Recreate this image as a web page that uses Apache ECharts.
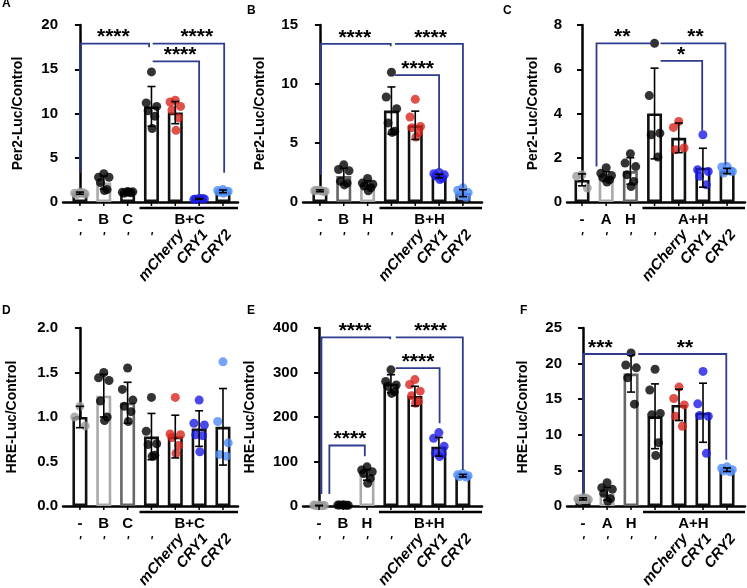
<!DOCTYPE html>
<html>
<head>
<meta charset="utf-8">
<script src="https://cdn.jsdelivr.net/npm/echarts@6/dist/echarts.min.js"></script>
<style>
  html, body { margin: 0; padding: 0; background: #fff; }
  #main { width: 747px; height: 588px; }
</style>
</head>
<body>
<div id="main"></div>
<script>
var FONT = 'Liberation Sans, Arial, sans-serif';

// panel setup
var letters = ['A', 'B', 'C', 'D', 'E', 'F'];
var yNames = ['Per2-Luc/Control', 'Per2-Luc/Control', 'Per2-Luc/Control',
              'HRE-Luc/Control', 'HRE-Luc/Control', 'HRE-Luc/Control'];
var yMax = [20, 15, 8, 2, 400, 25];
var yStep = [5, 5, 2, 0.5, 100, 5];
var firstLabels = [['-', 'B', 'C'], ['-', 'B', 'H'], ['-', 'A', 'H'],
                   ['-', 'B', 'C'], ['-', 'B', 'H'], ['-', 'A', 'H']];
var groupLabels = ['B+C', 'B+H', 'A+H', 'B+C', 'B+H', 'A+H'];
var rotLabels = ['mCherry', 'CRY1', 'CRY2'];

// means, SD and single points (7 bars per panel)
var meansA = [1.0, 2.2, 1.1, 10.8, 10.1, 0.35, 1.2];
var sdA = [0.12, 0.75, 0.08, 2.25, 1.25, 0.05, 0.15];
var ptsA = [[1.1, 1.0, 0.9, 0.85, 1.05, 1.0], [3.2, 2.8, 2.8, 2.2, 1.4, 1.3], [1.2, 1.1, 1.15, 1.0, 1.05, 1.1],
            [14.7, 11.2, 10.8, 10.3, 9.7, 8.3], [11.5, 11.3, 10.8, 10.4, 9.5, 8.1],
            [0.4, 0.3, 0.35, 0.3, 0.4, 0.35], [1.4, 1.3, 1.2, 1.1, 1.2, 1.0]];

var meansB = [0.95, 2.2, 1.45, 7.75, 6.5, 2.2, 0.75];
var sdB = [0.08, 0.65, 0.35, 2.0, 1.2, 0.15, 0.3];
var ptsB = [[1.0, 0.95, 0.9, 1.0, 0.9, 0.95], [3.15, 2.75, 2.65, 1.75, 1.6, 1.45], [2.0, 1.6, 1.5, 1.35, 1.2, 0.95],
            [11.0, 8.9, 7.9, 6.7, 6.0, 5.9], [8.7, 7.2, 6.4, 6.3, 5.9, 5.5],
            [2.5, 2.4, 2.3, 2.2, 2.0, 1.9], [1.2, 1.0, 0.8, 0.6, 0.4, 0.5]];

var meansC = [1.0, 1.15, 1.4, 4.0, 2.9, 1.55, 1.4];
var sdC = [0.27, 0.22, 0.6, 2.05, 0.67, 0.88, 0.12];
var ptsC = [[1.23, 1.16, 0.63], [1.55, 1.3, 1.2, 1.1, 1.0, 0.9], [2.18, 1.76, 1.6, 1.23, 0.93, 0.7],
            [7.17, 4.81, 3.11, 3.04, 2.03], [3.64, 3.37, 2.44, 2.36],
            [3.04, 1.46, 1.38, 1.16, 0.78], [1.6, 1.58, 1.38, 1.31, 1.4]];

var meansD = [1.0, 1.24, 1.16, 0.78, 0.78, 0.87, 0.89];
var sdD = [0.12, 0.24, 0.23, 0.26, 0.24, 0.2, 0.43];
var ptsD = [[1.12, 1.0, 0.9], [1.5, 1.44, 1.41, 1.18, 1.0, 0.96], [1.55, 1.31, 1.19, 1.12, 1.06, 0.95],
            [1.22, 0.84, 0.7, 0.69, 0.57, 0.56], [1.22, 0.81, 0.8, 0.77, 0.68, 0.59],
            [1.19, 0.93, 0.91, 0.8, 0.79, 0.61], [1.62, 0.95, 0.71, 0.58, 0.56]];

var meansE = [1, 2, 70, 275, 247, 133, 68];
var sdE = [0.5, 0.5, 12, 20, 22, 21, 3];
var ptsE = [[1.5, 2, 1, 1.2, 0.8, 1.0], [2.5, 2, 1.5, 2.2, 1.8, 2.0], [88, 81, 77, 73, 62, 51],
            [306, 280, 272, 269, 257, 253], [284, 273, 258, 248, 235, 231],
            [165, 152, 134, 119, 117, 111], [73, 70, 68, 66, 65]];

var meansF = [1.0, 1.7, 18.6, 12.6, 14.2, 13.1, 5.1];
var sdF = [0.15, 0.9, 2.6, 4.55, 2.2, 4.15, 0.25];
var ptsF = [[1.2, 1.0, 0.9, 0.8, 1.1, 0.95], [3.27, 2.57, 2.34, 1.78, 1.03, 0.7], [21.5, 19.8, 19.4, 18.0, 14.3],
            [19.2, 16.3, 13.0, 12.8, 8.9, 7.1], [16.7, 15.1, 14.2, 12.6, 11.2],
            [18.9, 14.35, 12.6, 12.7, 7.4], [5.5, 5.3, 5.1, 4.9, 4.8]];

// brackets: [x1, x2, yTop, yLeftEnd, yRightEnd, starsX]
var bracketsA = [[0, 2.9, 17.9, 3.3, 17.5, 1.4], [3.05, 6.05, 17.9, 17.9, 3.3, 4.9], [3.05, 5.0, 15.9, 15.9, 0.7, 4.2]];
var starsA = ['****', '****', '****'];
var bracketsB = [[0.04, 2.97, 13.4, 2.3, 13.2, 1.46], [3.15, 6.0, 13.4, 13.4, 1.2, 4.64], [3.15, 5.0, 10.75, 10.75, 2.7, 4.1]];
var starsB = ['****', '****', '****'];
var bracketsC = [[0.6, 2.9, 7.17, 1.6, 7.17, 1.66], [3.25, 5.93, 7.17, 7.17, 1.68, 4.69], [3.25, 4.97, 6.38, 6.38, 3.23, 4.1]];
var starsC = ['**', '**', '*'];
var bracketsD = [];
var starsD = [];
var bracketsE = [[0.1, 2.97, 379, 27, 375, 1.5], [3.2, 6.0, 379, 379, 81, 4.65], [3.2, 5.03, 310, 310, 186, 4.13], [0.43, 1.91, 136, 27, 112, 1.29]];
var starsE = ['****', '****', '****', '****'];
var bracketsF = [[0, 2.05, 21.35, 1.8, 21.35, 0.72], [2.3, 5.97, 21.35, 21.35, 6.5, 4.25]];
var starsF = ['***', '**'];

var allMeans = [meansA, meansB, meansC, meansD, meansE, meansF];
var allSd = [sdA, sdB, sdC, sdD, sdE, sdF];
var allPts = [ptsA, ptsB, ptsC, ptsD, ptsE, ptsF];
var allBrackets = [bracketsA, bracketsB, bracketsC, bracketsD, bracketsE, bracketsF];
var allStars = [starsA, starsB, starsC, starsD, starsE, starsF];

// layout
var grids = [
  {left: 63, top: 25, width: 175, height: 177},
  {left: 303, top: 25, width: 179, height: 177},
  {left: 567, top: 25, width: 178, height: 177},
  {left: 63, top: 328, width: 175, height: 178},
  {left: 303, top: 328, width: 179, height: 178},
  {left: 567, top: 328, width: 178, height: 178}
];
var xMin = [-0.71, -0.71, -0.62, -0.71, -0.67, -0.67];
var xMax = [6.63, 6.8, 6.74, 6.63, 6.8, 6.75];
var nameGaps = [38, 36, 27, 44, 46, 37];
var barEdge = [['#111', '#aaa', '#111'], ['#111', '#666', '#aaa'], ['#111', '#aaa', '#666'],
               ['#111', '#aaa', '#666'], ['#111', '#111', '#aaa'], ['#111', '#aaa', '#666']];
var dotColors = ['#9b9b9b', '#000', '#000', '#000', '#d7261d', '#1c1ce6', '#4f8cf6'];
var jitter = [0, -0.22, 0.22, -0.14, 0.14, 0.03];
var bracketColor = '#2f3c8e';

var xAxes = [], yAxes = [], series = [];

grids.forEach(function (g, p) {
  g.outerBoundsMode = 'none';
  xAxes.push({
    gridIndex: p, type: 'value', min: xMin[p], max: xMax[p],
    axisLine: {lineStyle: {color: '#000', width: 2.5}},
    axisTick: {show: false}, axisLabel: {show: false}, splitLine: {show: false}
  });
  yAxes.push({
    gridIndex: p, type: 'value', min: 0, max: yMax[p], interval: yStep[p],
    name: yNames[p], nameLocation: 'middle', nameGap: nameGaps[p],
    nameTextStyle: {fontFamily: FONT, fontWeight: 'bold', fontSize: 14, color: '#000'},
    axisLine: {show: true, lineStyle: {color: '#000', width: 2.5}},
    axisTick: {show: true, length: 5, lineStyle: {color: '#000', width: 2}},
    axisLabel: {
      fontFamily: FONT, fontWeight: 'bold', fontSize: 15, color: '#000', margin: 5,
      formatter: p === 3 ? function (v) { return v.toFixed(1); } : '{value}'
    },
    splitLine: {show: false}
  });

  var means = allMeans[p], sd = allSd[p], pts = allPts[p];

  series.push({
    type: 'bar', xAxisIndex: p, yAxisIndex: p, barWidth: 15, z: 2,
    data: means.map(function (m, i) {
      return {value: [i, m], itemStyle: {color: '#fff', borderColor: i < 3 ? barEdge[p][i] : '#111', borderWidth: 2.6}};
    }),
    silent: true
  });

  var dots = [];
  pts.forEach(function (list, i) {
    list.forEach(function (v, k) {
      dots.push({value: [i + jitter[k], v], itemStyle: {color: dotColors[i]}});
    });
  });
  series.push({
    type: 'scatter', xAxisIndex: p, yAxisIndex: p, symbolSize: 9, z: 4,
    data: dots, silent: true
  });

  series.push({
    type: 'custom', xAxisIndex: p, yAxisIndex: p, z: 5, clip: false, silent: true,
    data: means.map(function (m, i) { return [i, m, sd[i]]; }),
    encode: {x: 0, y: 1},
    renderItem: function (params, api) {
      var x = api.value(0), m = api.value(1), s = api.value(2);
      var t = api.coord([x, m + s]), b = api.coord([x, m - s]);
      var st = {stroke: '#000', lineWidth: 1.6};
      return {type: 'group', children: [
        {type: 'line', shape: {x1: t[0], y1: t[1], x2: b[0], y2: b[1]}, style: st},
        {type: 'line', shape: {x1: t[0] - 4, y1: t[1], x2: t[0] + 4, y2: t[1]}, style: st},
        {type: 'line', shape: {x1: b[0] - 4, y1: b[1], x2: b[0] + 4, y2: b[1]}, style: st}
      ]};
    }
  });

  if (allBrackets[p].length) {
    series.push({
      type: 'custom', xAxisIndex: p, yAxisIndex: p, z: 6, clip: false, silent: true,
      data: allBrackets[p],
      encode: {x: [0, 1], y: 2},
      renderItem: function (params, api) {
        var x1 = api.value(0), x2 = api.value(1), yt = api.value(2);
        var a = api.coord([x1, api.value(3)]), b = api.coord([x1, yt]);
        var c = api.coord([x2, yt]), d = api.coord([x2, api.value(4)]);
        var s = api.coord([api.value(5), yt]);
        return {type: 'group', children: [
          {type: 'polyline', shape: {points: [a, b, c, d]},
           style: {stroke: bracketColor, lineWidth: 1.8, fill: 'none'}},
          {type: 'text', x: s[0], y: s[1] - 6,
           style: {text: allStars[p][params.dataIndex], fill: '#000', fontFamily: FONT,
                   fontWeight: 'bold', fontSize: 21, align: 'center', verticalAlign: 'middle'}}
        ]};
      }
    });
  }

  // category labels, group bar and rotated names
  series.push({
    type: 'custom', xAxisIndex: p, yAxisIndex: p, z: 6, clip: false, silent: true,
    data: means.map(function (m, i) { return [i, 0]; }),
    encode: {x: 0, y: 1},
    renderItem: function (params, api) {
      var i = api.value(0);
      var c = api.coord([i, 0]);
      var kids = [
        {type: 'line', shape: {x1: c[0], y1: c[1], x2: c[0], y2: c[1] + 4}, style: {stroke: '#000', lineWidth: 1.5}}
      ];
      if (i < 3) {
        kids.push({type: 'text', x: c[0], y: c[1] + 18,
          style: {text: firstLabels[p][i], fill: '#000', fontFamily: FONT, fontWeight: 'bold',
                  fontSize: 15, align: 'center', verticalAlign: 'middle'}});
      }
      if (i < 4) {
        kids.push({type: 'text', x: c[0], y: c[1] + 36,
          style: {text: "'", fill: '#000', fontFamily: FONT, fontStyle: 'italic', fontWeight: 'bold',
                  fontSize: 12, align: 'center', verticalAlign: 'middle'}});
      } else {
        kids.push({type: 'text', x: c[0] + 6, y: c[1] + 30, rotation: 50 * Math.PI / 180,
          style: {text: rotLabels[i - 4], fill: '#000', fontFamily: FONT, fontStyle: 'italic',
                  fontWeight: 'bold', fontSize: 15, align: 'right', verticalAlign: 'middle'}});
      }
      if (i === 0) {
        var u1 = api.coord([2.5, 0]), u2 = api.coord([xMax[p], 0]), gl = api.coord([4.6, 0]);
        kids.push({type: 'line', shape: {x1: u1[0], y1: u1[1] + 6, x2: u2[0], y2: u2[1] + 6},
          style: {stroke: '#000', lineWidth: 2.5}});
        kids.push({type: 'text', x: gl[0], y: gl[1] + 18,
          style: {text: groupLabels[p], fill: '#000', fontFamily: FONT, fontWeight: 'bold',
                  fontSize: 15, align: 'center', verticalAlign: 'middle'}});
      }
      return {type: 'group', children: kids};
    }
  });
});

var letterPos = [[2, 4], [247, 11], [503, 11], [2, 311], [247, 311], [520, 311]];
var chart = echarts.init(document.getElementById('main'), null, {renderer: 'canvas'});
chart.setOption({
  animation: false,
  backgroundColor: '#fff',
  grid: grids,
  xAxis: xAxes,
  yAxis: yAxes,
  series: series,
  graphic: letters.map(function (l, i) {
    return {type: 'text', left: letterPos[i][0], top: letterPos[i][1] - 6,
      style: {text: l, fill: '#000', font: 'bold 12px ' + FONT}};
  })
});
</script>
</body>
</html>
